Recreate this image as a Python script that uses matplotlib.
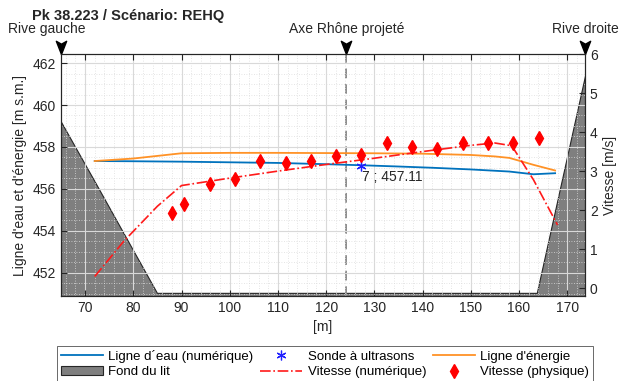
import matplotlib
matplotlib.use("Agg")
import matplotlib.pyplot as plt
from matplotlib.path import Path
from matplotlib.ticker import MultipleLocator
from matplotlib.lines import Line2D
from matplotlib.patches import Patch

plt.rcParams['font.family'] = ['Liberation Sans', 'DejaVu Sans']
plt.rcParams['font.size'] = 10

# données
bed_x = [65.0, 72.0, 84.9, 163.7, 173.7]
bed_y = [459.2, 456.35, 451.05, 451.05, 461.4]

eau_x = [72, 80, 90, 100, 110, 120, 127.2, 135, 142, 150, 158, 163, 167.5]
eau_y = [457.33, 457.32, 457.30, 457.27, 457.24, 457.18, 457.13, 457.07, 457.01, 456.93, 456.83, 456.70, 456.75]

ene_x = [72, 80, 90, 100, 110, 120, 130, 140, 150, 155, 158, 163, 167.5]
ene_y = [457.33, 457.45, 457.70, 457.72, 457.72, 457.71, 457.70, 457.68, 457.62, 457.55, 457.48, 457.15, 456.88]

vnum_x = [72, 78, 85, 90, 100, 110, 120, 130, 140, 150, 155, 158.5, 163, 168]
vnum_v = [0.3, 1.2, 2.1, 2.63, 2.82, 3.0, 3.17, 3.33, 3.5, 3.66, 3.72, 3.65, 2.78, 1.62]

vphys_x = [88.0, 90.5, 95.9, 101.1, 106.3, 111.7, 116.9, 122.1, 127.2, 132.6, 137.8, 143.0, 148.4, 153.6, 158.8, 164.2]
vphys_v = [1.93, 2.16, 2.68, 2.81, 3.25, 3.20, 3.25, 3.38, 3.40, 3.71, 3.63, 3.56, 3.71, 3.71, 3.71, 3.84]

sonde_x = 127.2
sonde_y = 457.11
axe_x = 124.2
rive_g = 65.0
rive_d = 173.7

xlim = (65.0, 173.7)
ylim = (450.9, 462.43)
vlim = (-0.2, 6.0)

fig = plt.figure(figsize=(6.24, 3.81), dpi=100)
ax = fig.add_axes([61/624, 1-296/381, (585-61)/624, (296-54)/381])
ax2 = ax.twinx()

ax.fill_between(bed_x, bed_y, ylim[0], facecolor='#7f7f7f', edgecolor='#262626', lw=0.8, zorder=1)
ax.plot(eau_x, eau_y, color='#0072BD', lw=1.3, zorder=3)
ax.plot(ene_x, ene_y, color='#FF9226', lw=1.3, zorder=3)
ax.plot([sonde_x], [sonde_y], marker=(6, 2, 0), ls='none', color='#2020ff', mew=0.9, ms=7, zorder=4)
ax.text(sonde_x + 0.3, sonde_y - 0.2, f"7 ; {sonde_y:.2f}", ha='left', va='top', fontsize=10, color='#262626')
ax.axvline(axe_x, color='#8c8c8c', ls='--', lw=1.4, dashes=(5, 3), zorder=2)

ax2.plot(vnum_x, vnum_v, color='#ff1a1a', ls='-.', lw=1.2)
ax2.plot(vphys_x, vphys_v, 'd', color='#ff0000', ms=7, mec='#ff0000')

ax.set_xlim(*xlim)
ax.set_ylim(*ylim)
ax2.set_ylim(*vlim)

ax.xaxis.set_major_locator(MultipleLocator(10))
ax.xaxis.set_minor_locator(MultipleLocator(2))
ax.yaxis.set_major_locator(MultipleLocator(2))
ax.yaxis.set_minor_locator(MultipleLocator(0.5))
ax2.yaxis.set_major_locator(MultipleLocator(1))

ax.grid(True, which='major', color='#d9d9d9', lw=0.8)
ax.grid(True, which='minor', color='#dcdcdc', lw=0.6, ls=(0, (1, 2)))
ax.set_axisbelow(False)

ax.tick_params(which='major', direction='in', length=4, top=True, color='#262626', labelcolor='#262626', labelsize=10)
ax.tick_params(which='minor', length=0)
ax2.tick_params(direction='in', length=4, color='#262626', labelcolor='#262626', labelsize=10)
for a in (ax, ax2):
    for s in a.spines.values():
        s.set_color('#262626')
        s.set_linewidth(0.8)

ax.set_xlabel('[m]', fontsize=10, color='#262626', labelpad=4)
ax.set_ylabel("Ligne d'eau et d'énergie [m s.m.]", fontsize=10, color='#262626', labelpad=4)
ax2.set_ylabel('Vitesse [m/s]', fontsize=10, color='#262626', labelpad=4)

# flèches en haut
arrow = Path([(0, 0), (-0.39, 1.0), (0, 0.78), (0.39, 1.0), (0, 0)],
             [Path.MOVETO, Path.LINETO, Path.LINETO, Path.LINETO, Path.CLOSEPOLY])
tr = ax.get_xaxis_transform()
for xa, label, dx in [(rive_g, 'Rive gauche', -10), (axe_x, 'Axe Rhône projeté', 0), (rive_d, 'Rive droite', 0)]:
    ax.plot([xa], [1.0], marker=arrow, ms=19, color='k', transform=tr, clip_on=False, zorder=10)
    ax.annotate(label, xy=(xa, 1.0), xycoords=tr, xytext=(dx, 13), textcoords='offset points',
                ha='center', va='bottom', fontsize=10, color='#262626', annotation_clip=False)

fig.text(32/624, 1-16/381, 'Pk 38.223 / Scénario: REHQ', fontsize=10.5, fontweight='bold',
         ha='left', va='center', color='#262626')

handles = [
    Line2D([], [], color='#0072BD', lw=1.3),
    Patch(facecolor='#7f7f7f', edgecolor='#262626', lw=0.8),
    Line2D([], [], ls='none', marker=(6, 2, 0), color='#2020ff', mew=0.9, ms=7),
    Line2D([], [], color='#ff1a1a', ls='-.', lw=1.2),
    Line2D([], [], color='#FF9226', lw=1.3),
    Line2D([], [], ls='none', marker='d', color='#ff0000', ms=7),
]
labels = ['Ligne d´eau (numérique)', 'Fond du lit', 'Sonde à ultrasons',
          'Vitesse (numérique)', "Ligne d'énergie", 'Vitesse (physique)']
leg = fig.legend(handles, labels, ncol=3, loc='upper left', bbox_to_anchor=(57/624, 1-346/381),
                 frameon=True, fancybox=False, edgecolor='#262626', fontsize=9.5,
                 handlelength=3.2, handletextpad=0.4, columnspacing=0.5,
                 labelspacing=0.25, borderpad=0.3, borderaxespad=0)
leg.get_frame().set_linewidth(0.6)

fig.savefig('out.png', dpi=100)
